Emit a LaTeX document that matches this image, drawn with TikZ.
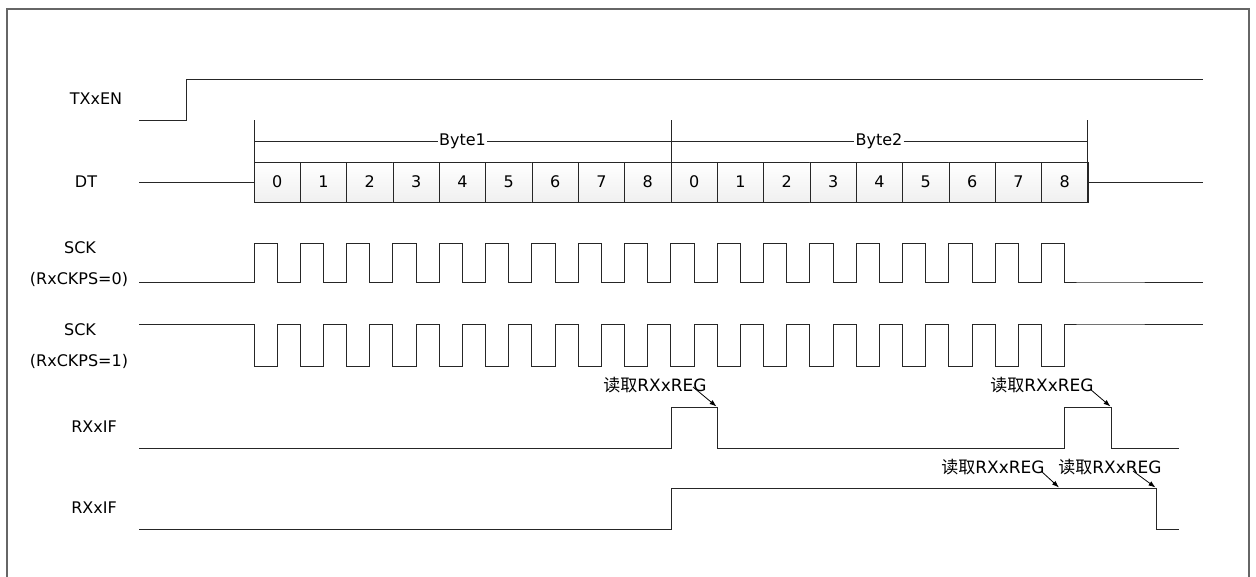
\documentclass[tikz,border=0pt]{standalone}
\usepackage{fontspec}
\setmainfont{DejaVu Sans}
\newfontfamily\cjk{Noto Sans CJK SC}
\usetikzlibrary{arrows.meta}
\begin{document}
\begin{tikzpicture}[x=1pt,y=-1pt,
  frame/.style={draw=black!60, line width=1.2pt},
  wave/.style={draw=black!85, line width=1pt},
  lbl/.style={font=\fontsize{16}{19}\selectfont, inner sep=0pt},
  note/.style={font=\fontsize{17}{20}\selectfont, inner sep=0pt},
  bitbox/.style={draw=black!85, line width=0.9pt, top color=white, bottom color=black!6,
    minimum width=46.33pt, minimum height=40pt, inner sep=0pt, font=\fontsize{16}{19}\selectfont},
  pointer/.style={draw=black, line width=0.8pt, -{Latex[length=7pt,width=5pt]}}]
\useasboundingbox (0,0) rectangle (1256,576);
\clip (0,0) rectangle (1256,576);
\draw[frame] (7,590) -- (7,9) -- (1249,9) -- (1249,590);

% labels
\node[lbl] (lTX) at (96,99) {TXxEN};
\node[lbl] (lDT) at (86,182) {DT};
\node[lbl] (lS0a) at (80,248) {SCK};
\node[lbl] (lS0b) at (79,279) {(RxCKPS=0)};
\node[lbl] (lS1a) at (80,330) {SCK};
\node[lbl] (lS1b) at (79,361) {(RxCKPS=1)};
\node[lbl] (lIF1) at (94,427) {RXxIF};
\node[lbl] (lIF2) at (94,508) {RXxIF};

% TXxEN
\draw[wave] (139,120) -- (186,120) -- (186,79) -- (1203,79);

% DT
\draw[wave] (139,182) -- (254,182);
\draw[wave] (1087,182) -- (1203,182);
\foreach \b [count=\i from 0] in {0,1,2,3,4,5,6,7,8,0,1,2,3,4,5,6,7,8}{
  \node[bitbox] (bit\i) at ({254+46.33*\i+23.17},182) {\b};
}
% byte brackets
\draw[wave] (254,120) -- (254,202);
\draw[wave] (671,120) -- (671,202);
\draw[wave] (1087,120) -- (1087,202);
\node[lbl, fill=white, inner xsep=1pt] (byte1) at (462.5,141) {Byte1};
\node[lbl, fill=white, inner xsep=1pt] (byte2) at (879,141) {Byte2};
\draw[wave] (254,141) -- (byte1.west);
\draw[wave] (byte1.east) -- (671,141);
\draw[wave] (671,141) -- (byte2.west);
\draw[wave] (byte2.east) -- (1087,141);

% SCK RxCKPS=0
\draw[wave] (139,282) -- (254,282)
  \foreach \k in {0,...,17}{ -- ({254+46.33*\k},243) -- ({277.17+46.33*\k},243) -- ({277.17+46.33*\k},282) -- ({300.33+46.33*\k},282) }
  -- (1203,282);
% SCK RxCKPS=1
\draw[wave] (139,324) -- (254,324)
  \foreach \k in {0,...,17}{ -- ({254+46.33*\k},366) -- ({277.17+46.33*\k},366) -- ({277.17+46.33*\k},324) -- ({300.33+46.33*\k},324) }
  -- (1203,324);

% RXxIF 1
\draw[wave] (139,448) -- (671,448) -- (671,407) -- (717,407) -- (717,448) -- (1064,448) -- (1064,407) -- (1111,407) -- (1111,448) -- (1179,448);
% RXxIF 2
\draw[wave] (139,529) -- (671,529) -- (671,488) -- (1156,488) -- (1156,529) -- (1179,529);

% notes
\node[note] (n1) at (655,385) {{\cjk 读取}RXxREG};
\node[note] (n2) at (1042,385) {{\cjk 读取}RXxREG};
\node[note] (n3) at (993,467) {{\cjk 读取}RXxREG};
\node[note] (n4) at (1110,467) {{\cjk 读取}RXxREG};
\coordinate (t1) at (716.5,406.5);
\coordinate (t2) at (1110.5,406.5);
\coordinate (t3) at (1059,487.5);
\coordinate (t4) at (1155.5,487.5);
\draw[pointer] (693,387) -- (t1);
\draw[pointer] (1090,389) -- (t2);
\draw[pointer] (1041,471) -- (t3);
\draw[pointer] (1133,471) -- (t4);
\end{tikzpicture}
\end{document}
